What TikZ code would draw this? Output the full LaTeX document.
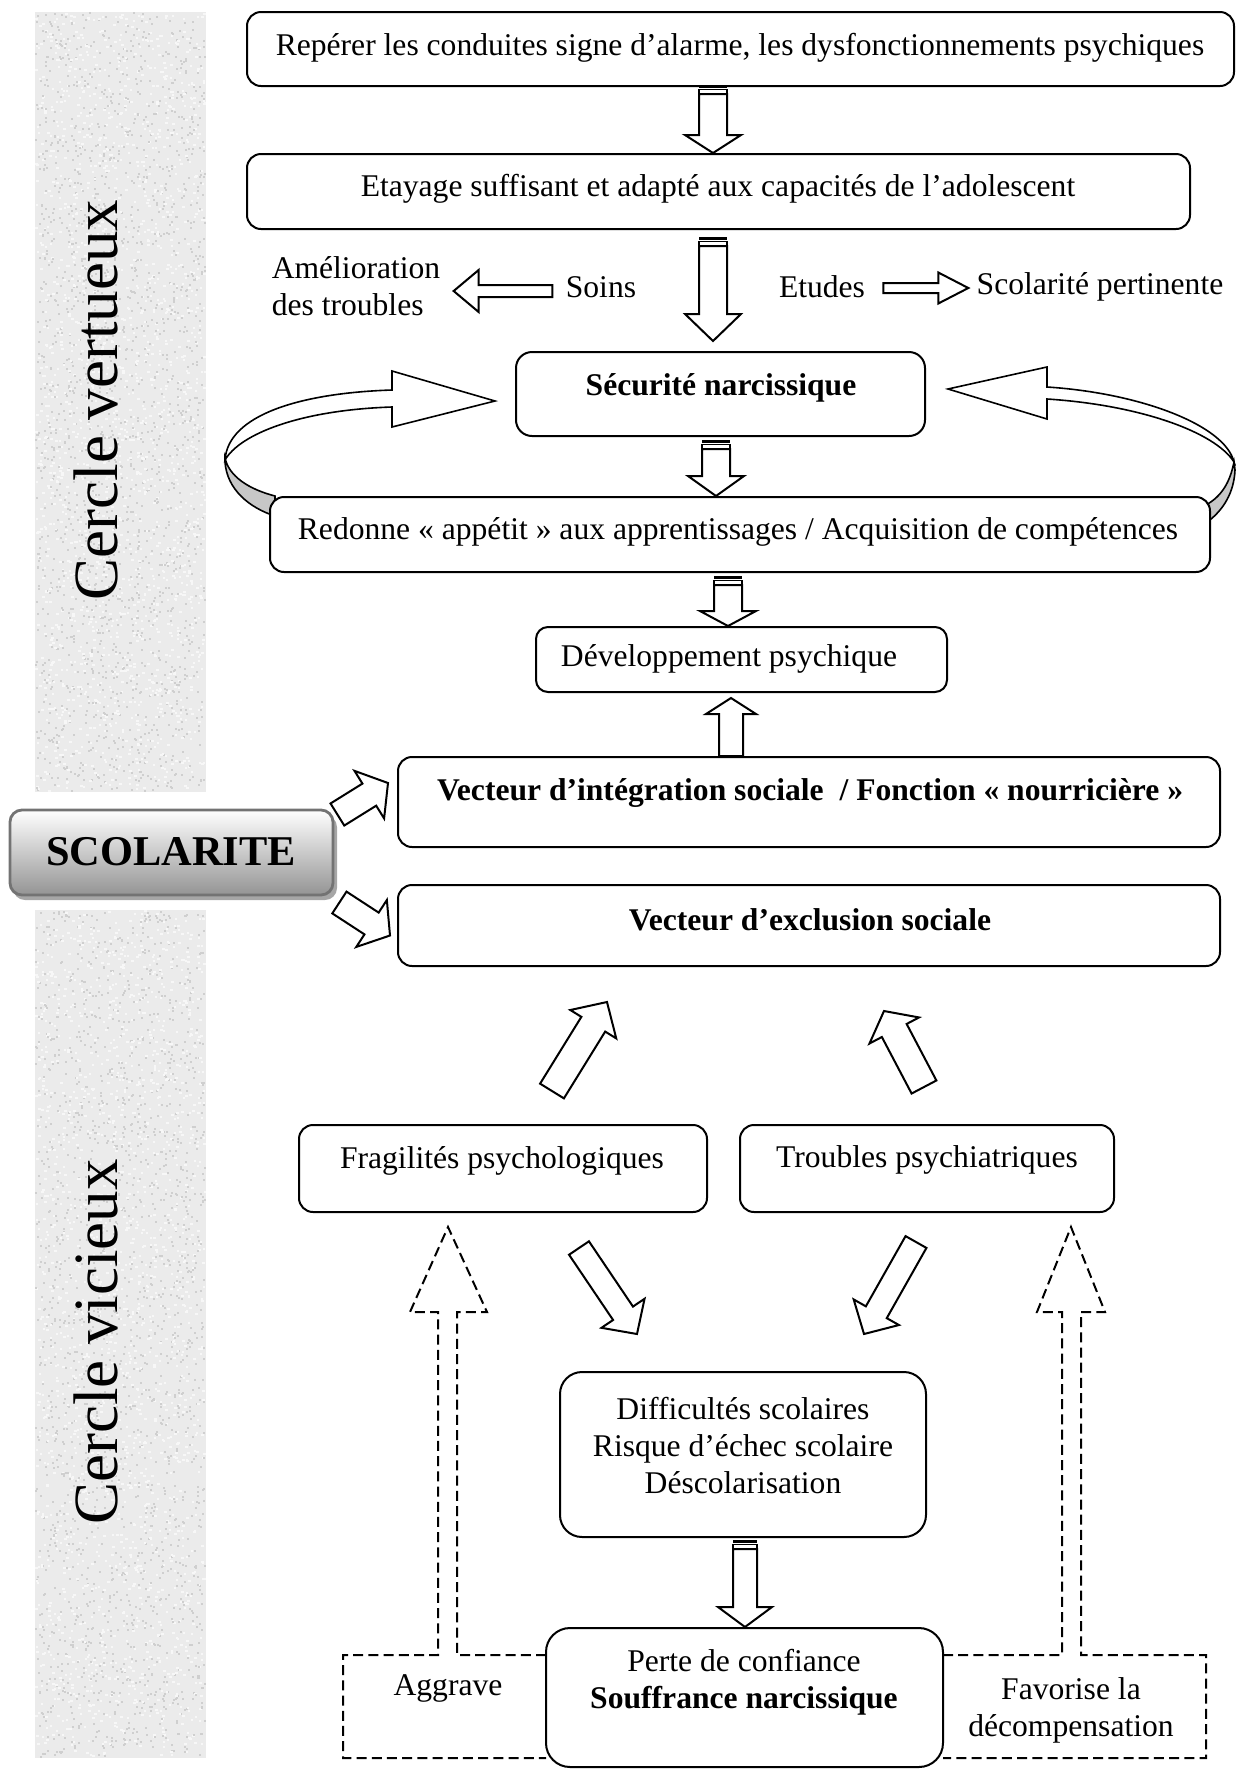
\documentclass[tikz,border=0pt]{standalone}
\usepackage{fontspec}
\setmainfont{Liberation Serif}
\usetikzlibrary{calc}
\newcommand\drawbox[6][]{%
  \node[box,#1,minimum width={(#5-#3)*0.5pt},minimum height={(#6-#4)*0.5pt}] (#2) at ({(#3+#5)/2},{(#4+#6)/2}) {};}
\newcommand\blockarrow[5]{%
  \path[barrow] let \p1=(#1), \p2=(#2), \n1={atan2(\y2-\y1,\x2-\x1)}, \n2={veclen(\x2-\x1,\y2-\y1)} in
   ($(\p1)+(\n1+90:#3)$) -- ($(\p1)+(\n1:\n2-#5)+(\n1+90:#3)$) -- ($(\p1)+(\n1:\n2-#5)+(\n1+90:#4)$) -- (\p2)
   -- ($(\p1)+(\n1:\n2-#5)+(\n1-90:#4)$) -- ($(\p1)+(\n1:\n2-#5)+(\n1-90:#3)$) -- ($(\p1)+(\n1-90:#3)$) -- cycle;}
\newcommand\sdown[5]{%
  \fill ($(#1)+(-#3,0)$) rectangle ($(#1)+(#3,3)$);
  \draw[line width=0.8pt] ($(#1)+(-#3,4.5)$) rectangle ($(#1)+(#3,9)$);
  \path[barrow] ($(#1)+(-#3,9)$) -- ($(#2)+(-#3,-#5)$) -- ($(#2)+(-#4,-#5)$) -- (#2) -- ($(#2)+(#4,-#5)$) -- ($(#2)+(#3,-#5)$) -- ($(#1)+(#3,9)$) -- cycle;}
\begin{document}
\begin{tikzpicture}[x=0.5pt,y=-0.5pt,
  every node/.style={inner sep=0pt},
  box/.style={draw, line width=1pt, fill=white, rounded corners=7pt},
  txt/.style={font=\fontsize{15.8}{18.5}\selectfont, align=center},
  btxt/.style={font=\fontsize{15.8}{18.5}\selectfont\bfseries, align=center},
  barrow/.style={draw, line width=1pt, fill=white, line join=miter},
  curv/.style={draw, line width=0.8pt},
  dashbox/.style={draw, line width=1pt, dash pattern=on 5pt off 2.6pt},
  side/.style={font=\fontsize{31.5}{36}\selectfont, rotate=90}]
\useasboundingbox (0,0) rectangle (1236,1769);
% textured side bars
\fill[black!8] (35,12) rectangle (206,792);
\fill[black!8] (35,910) rectangle (206,1758);
\pgfmathsetseed{12345}
\foreach \i in {1,...,1800}{%
  \pgfmathsetmacro\rx{35+169*rnd}\pgfmathsetmacro\ry{12+778*rnd}%
  \fill[black!19] (\rx,\ry) rectangle ++(2,2);
  \pgfmathsetmacro\rx{35+169*rnd}\pgfmathsetmacro\ry{12+778*rnd}%
  \fill[black!3] (\rx,\ry) rectangle ++(2.5,2);
  \pgfmathsetmacro\rx{35+169*rnd}\pgfmathsetmacro\ry{910+846*rnd}%
  \fill[black!19] (\rx,\ry) rectangle ++(2,2);
  \pgfmathsetmacro\rx{35+169*rnd}\pgfmathsetmacro\ry{910+846*rnd}%
  \fill[black!3] (\rx,\ry) rectangle ++(2.5,2);
}
\node[side] (cvert) at (96,400) {Cercle vertueux};
\node[side] (cvic) at (96,1342) {Cercle vicieux};
% curved arrows
\path[curv, fill=black!22] (225,458) .. controls (229,476) and (248,489) .. (275,496) -- (275,516) .. controls (250,508) and (227,490) .. (225,462) -- cycle;
\path[curv, fill=white] (392,407) -- (392,427) -- (495,401) -- (392,371) -- (392,390) .. controls (300,393) and (228,415) .. (225,460) .. controls (240,434) and (300,410) .. (392,407) -- cycle;
\path[curv, fill=black!22] (1234,462) .. controls (1230,482) and (1222,496) .. (1206,505) -- (1206,523) .. controls (1224,510) and (1234,492) .. (1235,470) -- cycle;
\path[curv, fill=white] (1047,399) -- (1047,419) -- (948,389) -- (1047,367) -- (1047,387) .. controls (1140,393) and (1225,425) .. (1234,462) .. controls (1215,432) and (1140,405) .. (1047,399) -- cycle;
% dashed boxes with dashed arrows
\draw[dashbox] (546,1655) -- (457,1655) -- (457,1312) -- (487,1312) -- (448,1227) -- (410,1312) -- (438,1312) -- (438,1655) -- (343,1655) -- (343,1758) -- (546,1758);
\draw[dashbox] (943,1655) -- (1062,1655) -- (1062,1312) -- (1037,1312) -- (1071,1227) -- (1105,1312) -- (1081,1312) -- (1081,1655) -- (1206,1655) -- (1206,1758) -- (943,1758);
% boxes
\drawbox{brep}{247}{12}{1234}{86}
\drawbox{beta}{247}{154}{1190}{229}
\drawbox[rounded corners=8pt]{bsec}{516}{352}{925}{436}
\drawbox{bred}{270}{497}{1210}{572}
\drawbox[rounded corners=6pt]{bdev}{536}{627}{947}{692}
\drawbox{bvin}{398}{757}{1220}{847}
\drawbox{bvex}{398}{885}{1220}{966}
\drawbox{bfra}{299}{1125}{707}{1212}
\drawbox{btro}{740}{1125}{1114}{1212}
\drawbox[rounded corners=11pt]{bdif}{560}{1372}{926}{1537}
\drawbox[rounded corners=12pt]{bper}{546}{1628}{943}{1767}
\fill[black!35, rounded corners=6pt] (13,815) rectangle (337,900);
\drawbox[draw=black!55, line width=1.4pt, rounded corners=6pt, top color=white, bottom color=black!42]{bscol}{10}{810}{333}{895}
% texts
\node[txt] (trep) at (740,48) {Repérer les conduites signe d’alarme, les dysfonctionnements psychiques};
\node[txt] (teta) at (718,189) {Etayage suffisant et adapté aux capacités de l’adolescent};
\node[txt, align=left] (tame) at (356,286) {Amélioration\\des troubles};
\node[txt] (tsoi) at (601,287) {Soins};
\node[txt] (tetu) at (822,287) {Etudes};
\node[txt] (tsco) at (1100,287) {Scolarité pertinente};
\node[btxt] (tsec) at (721,388) {Sécurité narcissique};
\node[txt] (tred) at (738,532) {Redonne « appétit » aux apprentissages / Acquisition de compétences};
\node[txt] (tdev) at (729,659) {Développement psychique};
\node[btxt] (tvin) at (810,793) {Vecteur d’intégration sociale \ / Fonction « nourricière »};
\node[btxt] (tvex) at (810,920) {Vecteur d’exclusion sociale};
\node[font=\fontsize{21.2}{25}\selectfont\bfseries] (tscol) at (171,852) {SCOLARITE};
\node[txt] (tfra) at (502,1161) {Fragilités psychologiques};
\node[txt] (ttro) at (927,1160) {Troubles psychiatriques};
\node[txt] (tdif) at (743,1446) {Difficultés scolaires\\Risque d’échec scolaire\\Déscolarisation};
\node[txt] (tper) at (744,1682) {Perte de confiance\\\textbf{Souffrance narcissique}};
\node[txt] (tagg) at (448,1688) {Aggrave};
\node[txt] (tfav) at (1071,1710) {Favorise la\\décompensation};
% vertical arrows
\coordinate (ax1) at (713,0);
\coordinate (ax3) at (716,0);
\coordinate (ax4) at (728,0);
\coordinate (ax5) at (731,0);
\coordinate (ax6) at (745,0);
\coordinate (a1s) at ($(ax1 |- brep.south)+(0,-2)$);
\coordinate (a1e) at (ax1 |- beta.north);
\sdown{a1s}{a1e}{14}{28}{18}
\coordinate (a2s) at ($(ax1 |- beta.south)+(0,7)$);
\coordinate (a2e) at ($(ax1 |- bsec.north)+(0,-10)$);
\sdown{a2s}{a2e}{14}{28}{27}
\coordinate (a3s) at ($(ax3 |- bsec.south)+(0,3)$);
\coordinate (a3e) at (ax3 |- bred.north);
\sdown{a3s}{a3e}{14}{28}{20}
\coordinate (a4s) at ($(ax4 |- bred.south)+(0,3)$);
\coordinate (a4e) at (ax4 |- bdev.north);
\sdown{a4s}{a4e}{14}{28}{15}
\coordinate (a5s) at (ax5 |- bvin.north);
\coordinate (a5e) at ($(ax5 |- bdev.south)+(0,5)$);
\blockarrow{a5s}{a5e}{6pt}{12.5pt}{8pt}
\coordinate (a6s) at ($(ax6 |- bdif.south)+(0,2)$);
\coordinate (a6e) at (ax6 |- bper.north);
\sdown{a6s}{a6e}{12}{27}{20}
% horizontal arrows
\coordinate (soiS) at ($(tsoi.west)+(-13,4)$);
\coordinate (ameE) at ($(tame.east)+(13,5)$);
\blockarrow{soiS}{ameE}{3pt}{10.5pt}{12.5pt}
\coordinate (etuE) at ($(tetu.east)+(18,1)$);
\coordinate (scoW) at ($(tsco.west)+(-8,1)$);
\blockarrow{etuE}{scoW}{2.5pt}{7.75pt}{15pt}
% SCOLARITE arrows
\coordinate (s1s) at ($(bscol.east)+(3,-38)$);
\coordinate (s1e) at ($(bvin.west)+(-9,-19)$);
\blockarrow{s1s}{s1e}{6.5pt}{14pt}{11pt}
\coordinate (s2s) at ($(bscol.east)+(5,50)$);
\coordinate (s2e) at ($(bvex.west)+(-7,10)$);
\blockarrow{s2s}{s2e}{6.5pt}{14pt}{11pt}
% diagonal arrows (vicious circle)
\coordinate (u1s) at (552,1091);
\coordinate (u1e) at (607,1002);
\blockarrow{u1s}{u1e}{7pt}{13.5pt}{13pt}
\coordinate (u2s) at (924,1087);
\coordinate (u2e) at (884,1011);
\blockarrow{u2s}{u2e}{7pt}{14pt}{11pt}
\coordinate (d1s) at (579,1248);
\coordinate (d1e) at (637,1334);
\blockarrow{d1s}{d1e}{6pt}{13pt}{12.5pt}
\coordinate (d2s) at (916,1242);
\coordinate (d2e) at (864,1334);
\blockarrow{d2s}{d2e}{6pt}{13pt}{12.5pt}
\end{tikzpicture}
\end{document}
